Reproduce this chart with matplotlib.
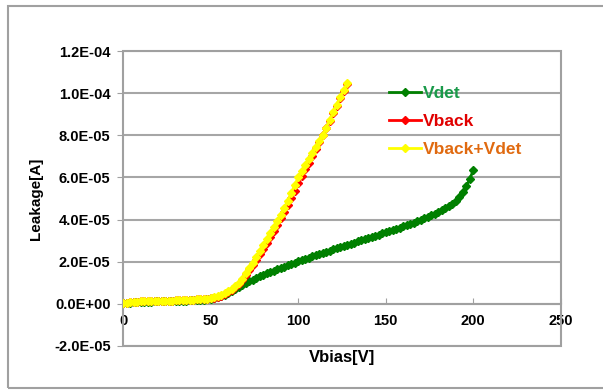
import matplotlib
matplotlib.use("Agg")
import matplotlib.pyplot as plt
from matplotlib.patches import Rectangle
from matplotlib.ticker import FuncFormatter

# -----------------------------
# Data (leakage in uA)
# -----------------------------
vbias_det = list(range(0, 201, 2))
leak_det = [0.2, 0.4, 0.6, 0.7, 0.8, 0.9, 0.95, 1.0, 1.05, 1.1,
            1.15, 1.2, 1.25, 1.3, 1.35, 1.4, 1.45, 1.5, 1.55, 1.6,
            1.7, 1.8, 1.9, 2.0, 2.2, 2.4, 2.7, 3.0, 3.5, 4.1,
            5.0, 6.0, 7.0, 7.9, 8.8, 9.7, 10.6, 11.4, 12.2, 13.0,
            13.7, 14.4, 15.1, 15.8, 16.5, 17.1, 17.7, 18.3, 18.9, 19.5,
            20.1, 20.7, 21.3, 21.9, 22.5, 23.1, 23.7, 24.2, 24.8, 25.3,
            25.9, 26.4, 27.0, 27.5, 28.0, 28.6, 29.1, 29.6, 30.2, 30.7,
            31.2, 31.8, 32.3, 32.9, 33.4, 34.0, 34.5, 35.1, 35.6, 36.2,
            36.8, 37.4, 38.0, 38.6, 39.3, 40.0, 40.7, 41.4, 42.1, 42.8,
            43.6, 44.4, 45.3, 46.3, 47.5, 48.9, 50.6, 53.3, 55.9, 59.1,
            63.5]

vbias_back = list(range(0, 129, 2))
leak_back = [0.3, 0.6, 0.8, 0.9, 1.0, 1.1, 1.15, 1.2, 1.25, 1.3,
             1.35, 1.4, 1.45, 1.5, 1.55, 1.6, 1.65, 1.7, 1.8, 1.85,
             1.95, 2.05, 2.15, 2.3, 2.45, 2.6, 2.9, 3.3, 3.9, 4.6,
             5.5, 6.5, 7.8, 9.5, 11.4, 13.6, 15.9, 18.4, 20.9, 23.5,
             26.2, 29.0, 31.8, 34.7, 37.6, 40.7, 43.8, 47.1, 50.4, 53.8,
             57.2, 60.5, 63.8, 67.0, 70.2, 73.4, 76.7, 80.0, 83.5, 87.0,
             90.5, 94.0, 97.5, 101.0, 104.6]

vbias_sum = list(range(0, 129, 2))
leak_sum = [0.3, 0.6, 0.8, 0.9, 1.0, 1.1, 1.15, 1.2, 1.25, 1.3,
            1.35, 1.4, 1.45, 1.5, 1.55, 1.6, 1.65, 1.7, 1.8, 1.85,
            1.95, 2.05, 2.15, 2.3, 2.45, 2.7, 3.1, 3.6, 4.3, 5.0,
            5.9, 7.0, 8.3, 9.9, 11.8, 14.5, 17.0, 19.6, 22.3, 25.0,
            27.8, 30.6, 33.4, 36.3, 39.2, 42.3, 45.5, 48.9, 52.6, 56.3,
            60.0, 62.9, 65.8, 68.6, 71.5, 74.3, 77.2, 80.0, 83.6, 87.3,
            90.9, 94.5, 98.2, 101.5, 104.9]

# -----------------------------
# Plot
# -----------------------------
plt.rcParams['font.family'] = ['Liberation Sans', 'DejaVu Sans']
plt.rcParams['font.weight'] = 'bold'

fig = plt.figure(figsize=(6.03, 3.90), dpi=100)
fig.patches.append(Rectangle((8 / 603, 2 / 390), 1.2, 0.98, transform=fig.transFigure,
                             fill=False, edgecolor='#a0a0a0', linewidth=1.5))
ax = fig.add_axes([0.204, 0.113, 0.726, 0.756])

ax.plot(vbias_det, [v * 1e-6 for v in leak_det], color='#008000', marker='D',
        markersize=4.2, linewidth=2, label='Vdet', zorder=3)
ax.plot(vbias_back, [v * 1e-6 for v in leak_back], color='#ff0000', marker='D',
        markersize=4.2, linewidth=2, label='Vback', zorder=4)
ax.plot(vbias_sum, [v * 1e-6 for v in leak_sum], color='#ffff00', marker='D',
        markersize=4.2, linewidth=2, label='Vback+Vdet', zorder=5)

ax.set_xlim(0, 250)
ax.set_ylim(-2e-5, 1.2e-4)
ax.set_xticks([0, 50, 100, 150, 200, 250])
ax.set_yticks([-2e-5, 0, 2e-5, 4e-5, 6e-5, 8e-5, 1e-4, 1.2e-4])
ax.yaxis.set_major_formatter(FuncFormatter(lambda v, p: f"{v:.1E}"))

ax.yaxis.grid(True, color='#a6a6a6', linewidth=1.5)
ax.set_axisbelow(True)

for s in ['top', 'right', 'left']:
    ax.spines[s].set_visible(False)
ax.spines['bottom'].set_position(('data', 0))
ax.spines['bottom'].set_color('#a0a0a0')
ax.spines['bottom'].set_linewidth(1.5)
ax.add_patch(Rectangle((0, 0), 1, 1, transform=ax.transAxes, fill=False,
                       edgecolor='#a0a0a0', linewidth=1.5, clip_on=False, zorder=1))

ax.tick_params(axis='x', direction='in', length=4, color='#a0a0a0', labelsize=10.5, pad=7)
ax.tick_params(axis='y', direction='out', length=4, color='#a0a0a0', labelsize=10.5, pad=5)

ax.set_xlabel("Vbias[V]", fontsize=12, fontweight='bold', labelpad=16)
ax.set_ylabel("Leakage[A]", fontsize=11, fontweight='bold', labelpad=8)

leg = ax.legend(loc='upper left', bbox_to_anchor=(0.573, 0.935), frameon=False,
                handlelength=1.8, labelspacing=0.75, handletextpad=0.15,
                prop={'size': 12.5, 'weight': 'bold'},
                labelcolor=['#1a9a4a', '#e00000', '#e06a10'])

plt.savefig("out.png", dpi=100)
